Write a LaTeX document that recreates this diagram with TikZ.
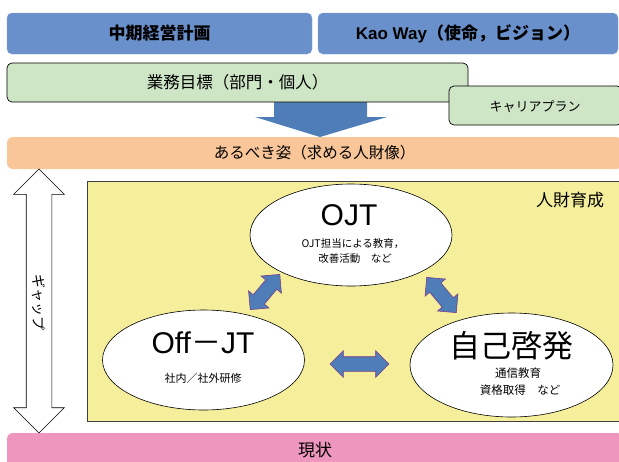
\documentclass[tikz,border=0pt]{standalone}
\usepackage{fontspec}
\setmainfont{Noto Sans CJK JP}
\newfontfamily\lat{Liberation Sans}
\usetikzlibrary{shapes.geometric,shapes.arrows}
\definecolor{topblue}{HTML}{6990CA}
\definecolor{arrowblue}{HTML}{4F7DB8}
\definecolor{greenbox}{HTML}{CEE5C6}
\definecolor{orangebox}{HTML}{F8C699}
\definecolor{yellowbox}{HTML}{F5EF9B}
\definecolor{pinkbox}{HTML}{EE96BD}
\definecolor{arrowedge}{HTML}{7A3C8C}
\tikzset{
  topbox/.style={fill=topblue, draw=topblue!80!white, line width=0.4pt, rounded corners=5pt, inner sep=0pt, outer sep=0pt, anchor=north west},
  greenrect/.style={fill=greenbox, draw=black, line width=0.7pt, rounded corners=5pt, inner sep=0pt, outer sep=0pt, anchor=north west},
  bandbox/.style={rounded corners=6pt, inner sep=0pt, outer sep=0pt, anchor=north west},
  oval/.style={ellipse, draw=black, line width=0.6pt, fill=white, inner sep=0pt, outer sep=0pt},
  linkarrow/.style={double arrow, fill=arrowblue, draw=arrowedge, line width=0.6pt, inner xsep=0pt, inner ysep=7pt, outer sep=0pt, double arrow head extend=6pt},
  gaparrow/.style={double arrow, fill=white, draw=black, line width=0.6pt, inner xsep=0pt, inner ysep=12.5pt, outer sep=0pt, double arrow head extend=12.5pt},
  txt/.style={inner sep=0pt, outer sep=0pt}
}
\begin{document}
\begin{tikzpicture}[x=1pt,y=-1pt]
\useasboundingbox (0,0) rectangle (619,461);
\begin{scope}
\clip (0,0) rectangle (619,461);
% top blue boxes
\node[topbox, minimum width=305pt, minimum height=41pt] (plan) at (7,13) {};
\node[txt, font=\fontsize{17}{20}\selectfont\bfseries] (plant) at (plan.center) {中期経営計画};
\node[topbox, minimum width=300pt, minimum height=41pt] (kao) at (318,13) {};
\node[txt, font=\fontsize{17}{20}\selectfont\bfseries] (kaot) at (kao.center) {{\lat Kao Way}（使命，ビジョン）};
% big down arrow (behind the boxes)
\coordinate (arrtip) at (320,137);
\fill[arrowblue] (274,98) -- (367,98) -- (367,117) -- (387,117) -- (arrtip) -- (255,117) -- (274,117) -- cycle;
% goal box
\node[greenrect, minimum width=461pt, minimum height=39pt] (goal) at (7,63) {};
\node[txt, font=\fontsize{16.5}{20}\selectfont] (goalt) at (goal.center) {業務目標（部門・個人）};
% career plan
\node[greenrect, minimum width=173pt, minimum height=39pt] (career) at (449,86) {};
\node[txt, font=\fontsize{13}{16}\selectfont] (careert) at (535,107) {キャリアプラン};
% ideal state band
\node[bandbox, fill=orangebox, minimum width=615pt, minimum height=32pt] (ideal) at (7,137) {};
\node[txt, font=\fontsize{15.5}{18}\selectfont] (idealt) at (ideal.center) {あるべき姿（求める人財像）};
% gap arrow
\node[gaparrow, minimum height=264pt, rotate=90] (gap) at (39,301) {};
\node[txt, rotate=-90, font=\fontsize{14}{16}\selectfont] (gapt) at (39,302) {ギャップ};
% development area
\node[draw=black!75, line width=0.8pt, fill=yellowbox, inner sep=0pt, outer sep=0pt, anchor=north west, minimum width=540pt, minimum height=240pt] (dev) at (87,181) {};
\node[txt, font=\fontsize{17}{20}\selectfont] (devt) at (570,200) {人財育成};
% ellipses
\node[oval, minimum width=202pt, minimum height=102pt] (ojt) at (351,235) {};
\node[txt, font=\fontsize{30}{34}\selectfont\lat] (ojtt) at (349,215) {OJT};
\node[txt, font=\fontsize{10.5}{13}\selectfont] (ojts1) at (353,244) {OJT担当による教育，};
\node[txt, font=\fontsize{10.5}{13}\selectfont] (ojts2) at (355,259) {改善活動　など};
\node[oval, minimum width=202pt, minimum height=100pt] (off) at (203.5,360) {};
\node[txt, font=\fontsize{30}{34}\selectfont] (offt) at (203,343) {{\lat Off}－{\lat JT}};
\node[txt, font=\fontsize{11}{13}\selectfont] (offs) at (203,378) {社内／社外研修};
\node[oval, minimum width=203pt, minimum height=104pt] (self) at (511.5,365) {};
\node[txt, font=\fontsize{31}{36}\selectfont] (selft) at (511,346) {自己啓発};
\node[txt, font=\fontsize{11.5}{14}\selectfont] (selfs1) at (518,373) {通信教育};
\node[txt, font=\fontsize{11.5}{14}\selectfont] (selfs2) at (520,390) {資格取得　など};
% link arrows
\node[linkarrow, minimum height=46pt, rotate=50] (a1) at (265,292) {};
\node[linkarrow, minimum height=46pt, rotate=-50] (a2) at (441.5,295) {};
\node[linkarrow, minimum height=59pt] (a3) at (359.5,364) {};
% current state band
\node[bandbox, fill=pinkbox, minimum width=616pt, minimum height=34pt] (now) at (7,433) {};
\node[txt, font=\fontsize{17}{20}\selectfont] (nowt) at (315,450) {現状};
\end{scope}
\end{tikzpicture}
\end{document}
